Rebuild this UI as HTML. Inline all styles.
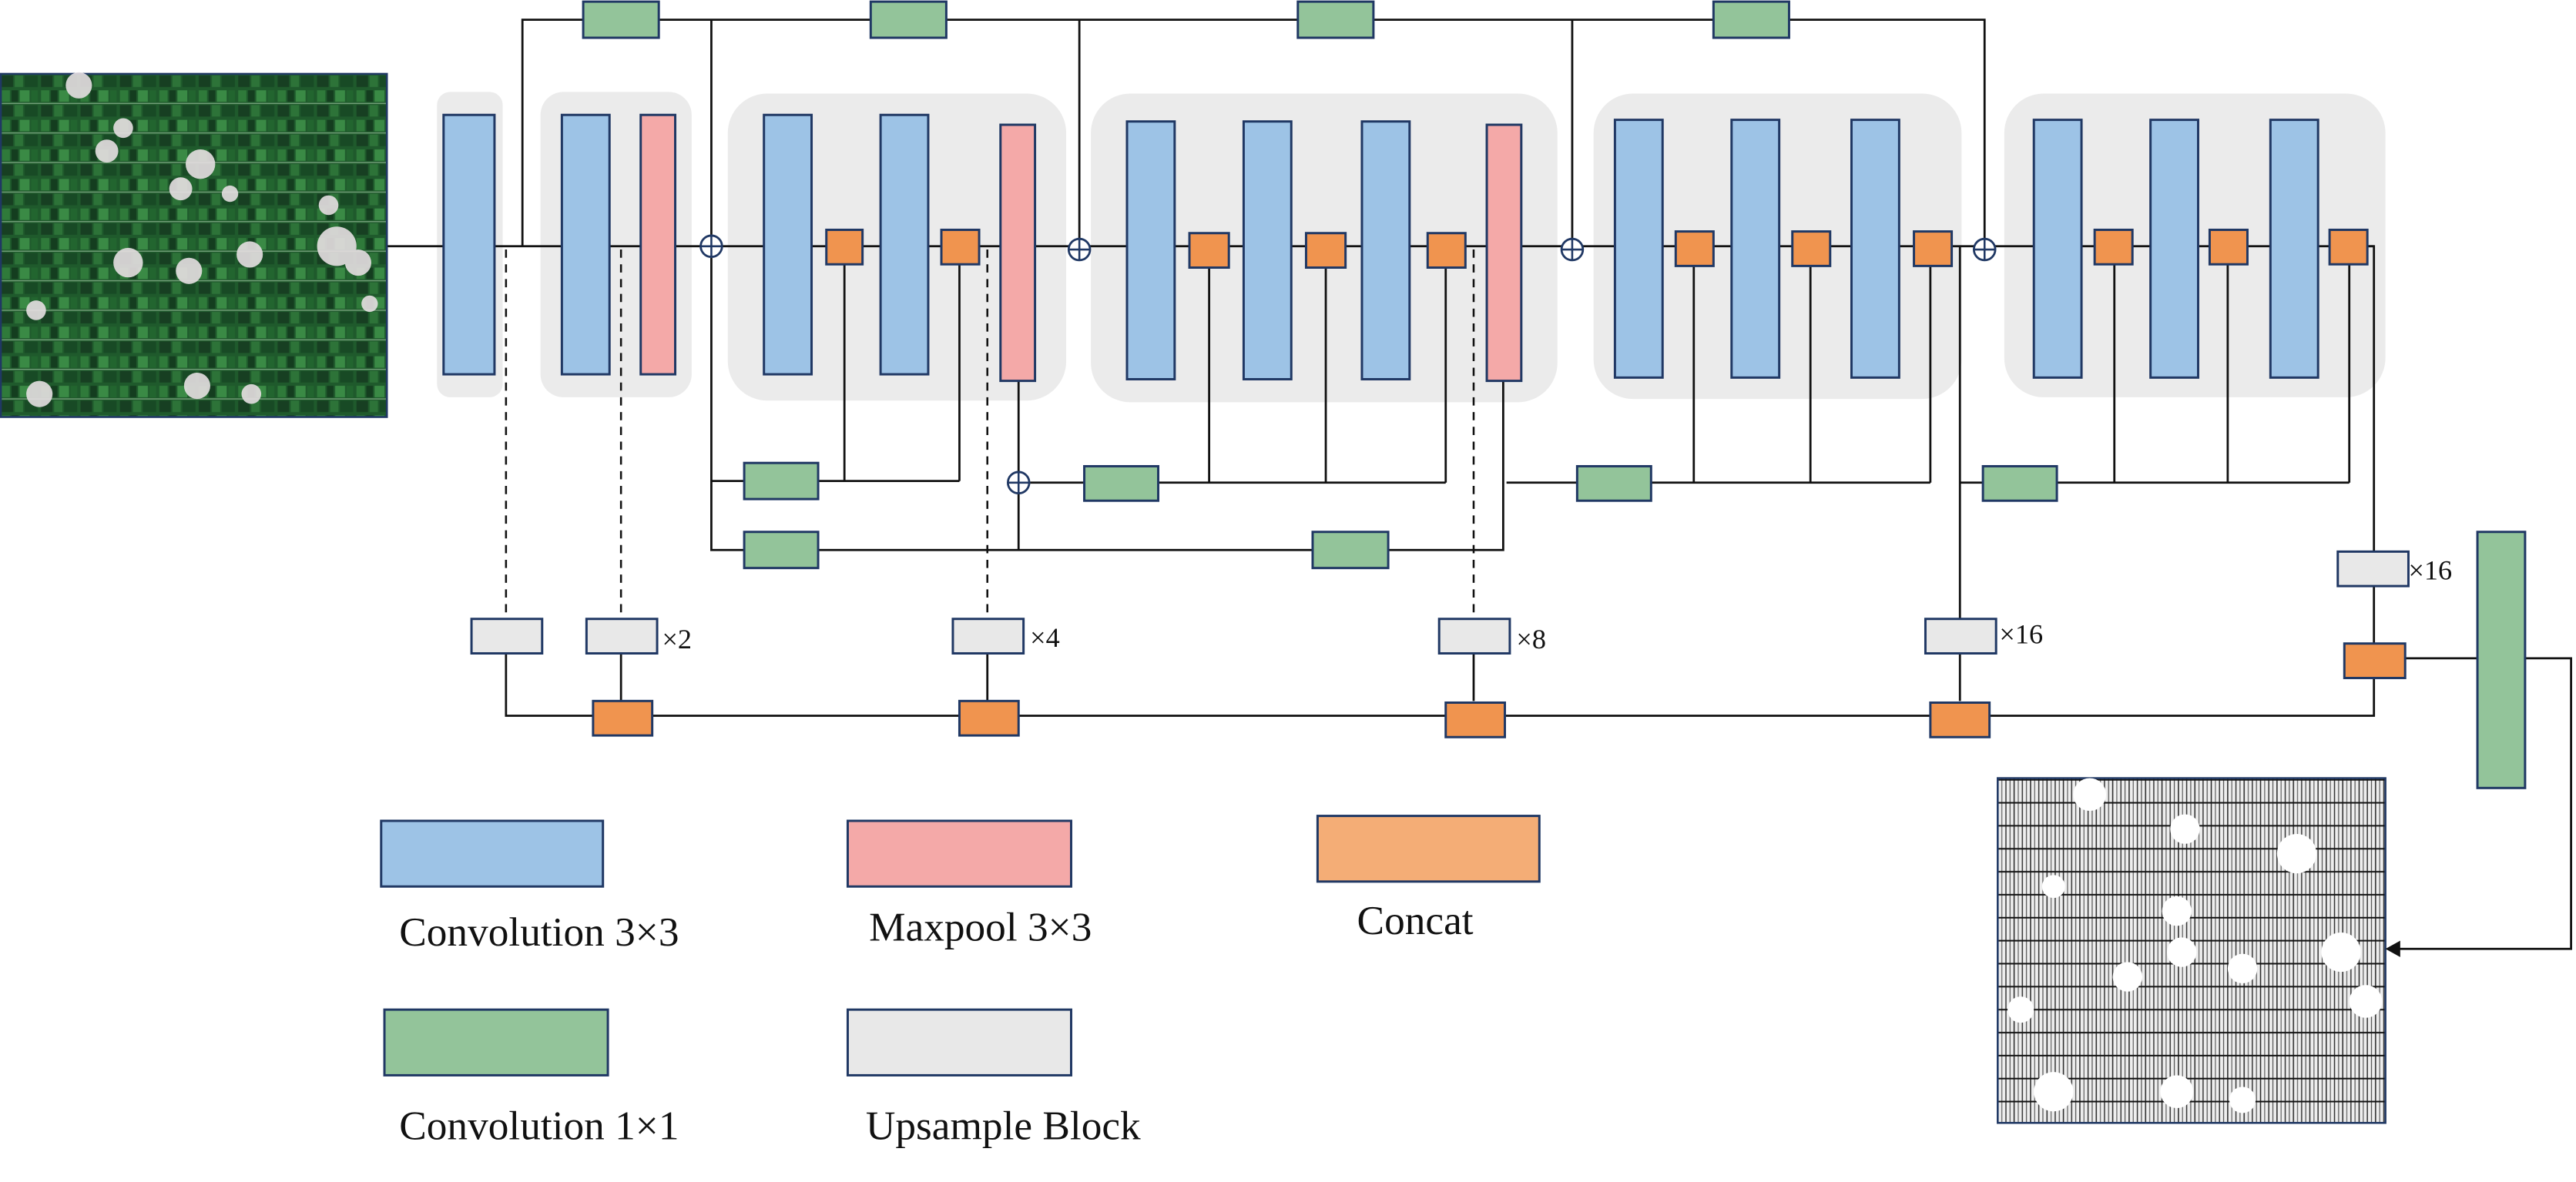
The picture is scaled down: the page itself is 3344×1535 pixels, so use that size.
<!DOCTYPE html>
<html><head><meta charset="utf-8"><style>
html,body{margin:0;padding:0;background:#fff;}
svg{display:block;}
text{font-family:"Liberation Serif",serif;fill:#111;}
</style></head><body>
<svg width="3344" height="1535" viewBox="0 0 1568 720" preserveAspectRatio="none" xmlns="http://www.w3.org/2000/svg">
<defs>
<pattern id="fields" width="24" height="18" patternUnits="userSpaceOnUse">
<rect width="24" height="18" fill="#1f5a2c"/>
<rect x="1" y="1" width="5" height="7" fill="#2f7a3a"/>
<rect x="7" y="1" width="4" height="7" fill="#143d1f"/>
<rect x="12" y="1" width="6" height="7" fill="#3a8a45"/>
<rect x="19" y="1" width="4" height="7" fill="#22652f"/>
<rect x="1" y="10" width="7" height="7" fill="#173f22"/>
<rect x="9" y="10" width="5" height="7" fill="#2d7338"/>
<rect x="15" y="10" width="8" height="7" fill="#184a25"/>
<line x1="0" y1="9" x2="24" y2="9" stroke="#7fa784" stroke-width="0.6"/>
</pattern>
<pattern id="lines" width="10" height="14" patternUnits="userSpaceOnUse">
<rect width="10" height="14" fill="#eeeeee"/>
<line x1="1" y1="0" x2="1" y2="14" stroke="#333" stroke-width="0.7"/>
<line x1="3.5" y1="0" x2="3.5" y2="14" stroke="#555" stroke-width="0.6"/>
<line x1="6" y1="0" x2="6" y2="14" stroke="#222" stroke-width="0.7"/>
<line x1="8.5" y1="0" x2="8.5" y2="14" stroke="#666" stroke-width="0.6"/>
<line x1="0" y1="13" x2="10" y2="13" stroke="#111" stroke-width="0.9"/>
</pattern>
</defs>

<rect x="0.5" y="45" width="235" height="209" fill="url(#fields)" stroke="#203864" stroke-width="1.2"/>
<g fill="#e6dfe2" opacity="0.9">
<circle cx="48" cy="52" r="8"/><circle cx="75" cy="78" r="6"/><circle cx="65" cy="92" r="7"/>
<circle cx="122" cy="100" r="9"/><circle cx="110" cy="115" r="7"/><circle cx="152" cy="155" r="8"/>
<circle cx="78" cy="160" r="9"/><circle cx="115" cy="165" r="8"/><circle cx="205" cy="150" r="12"/>
<circle cx="218" cy="160" r="8"/><circle cx="22" cy="189" r="6"/><circle cx="24" cy="240" r="8"/>
<circle cx="120" cy="235" r="8"/><circle cx="153" cy="240" r="6"/><circle cx="140" cy="118" r="5"/>
<circle cx="200" cy="125" r="6"/><circle cx="225" cy="185" r="5"/>
</g>

<rect x="1216" y="474" width="236" height="210" fill="url(#lines)" stroke="#203864" stroke-width="1.2"/>
<g fill="#fff">
<circle cx="1272" cy="484" r="10"/><circle cx="1250" cy="540" r="7"/><circle cx="1330" cy="505" r="9"/>
<circle cx="1398" cy="520" r="12"/><circle cx="1325" cy="555" r="9"/><circle cx="1328" cy="580" r="9"/>
<circle cx="1365" cy="590" r="9"/><circle cx="1425" cy="580" r="12"/><circle cx="1440" cy="610" r="10"/>
<circle cx="1295" cy="595" r="9"/><circle cx="1230" cy="615" r="8"/><circle cx="1250" cy="665" r="12"/>
<circle cx="1325" cy="665" r="10"/><circle cx="1365" cy="670" r="8"/>
</g>

<g fill="#ebebeb">
<rect x="266" y="56" width="40" height="186" rx="8"/>
<rect x="329" y="56" width="92" height="186" rx="14"/>
<rect x="443" y="57" width="206" height="187" rx="24"/>
<rect x="664" y="57" width="284" height="188" rx="24"/>
<rect x="970" y="57" width="224" height="186" rx="24"/>
<rect x="1220" y="57" width="232" height="185" rx="24"/>
</g>

<g stroke="#111" stroke-width="1.3" fill="none">
<line x1="236" y1="150" x2="1445" y2="150"/>
<polyline points="318,150 318,12 1208,12 1208,145"/>
<line x1="433" y1="12" x2="433" y2="143"/>
<line x1="657" y1="12" x2="657" y2="145"/>
<line x1="957" y1="12" x2="957" y2="145"/>
<polyline points="433,157 433,335 915,335 915,232"/>
<line x1="433" y1="293" x2="584" y2="293"/>
<line x1="514" y1="160" x2="514" y2="293"/>
<line x1="584" y1="160" x2="584" y2="293"/>
<line x1="620" y1="232" x2="620" y2="335"/>
<line x1="627" y1="294" x2="880" y2="294"/>
<line x1="736" y1="160" x2="736" y2="294"/>
<line x1="807" y1="160" x2="807" y2="294"/>
<line x1="880" y1="160" x2="880" y2="294"/>
<line x1="917" y1="294" x2="1175" y2="294"/>
<line x1="1031" y1="160" x2="1031" y2="294"/>
<line x1="1102" y1="160" x2="1102" y2="294"/>
<line x1="1175" y1="160" x2="1175" y2="294"/>
<line x1="1193" y1="150" x2="1193" y2="377"/>
<line x1="1193" y1="294" x2="1430" y2="294"/>
<line x1="1287" y1="160" x2="1287" y2="294"/>
<line x1="1356" y1="160" x2="1356" y2="294"/>
<line x1="1430" y1="160" x2="1430" y2="294"/>
<polyline points="1441,150 1445,150 1445,336"/>
<line x1="1445" y1="357" x2="1445" y2="392"/>
<polyline points="308,398 308,436 1445,436 1445,413"/>
<line x1="378" y1="398" x2="378" y2="427"/>
<line x1="601" y1="398" x2="601" y2="427"/>
<line x1="897" y1="398" x2="897" y2="427"/>
<line x1="1193" y1="398" x2="1193" y2="427"/>
<line x1="1464" y1="401" x2="1508" y2="401"/>
<polyline points="1537,401 1565,401 1565,578 1460,578"/>
</g>
<polygon points="1452,578 1461,573 1461,583" fill="#111"/>

<g stroke="#111" stroke-width="1.2" stroke-dasharray="5,4">
<line x1="308" y1="152" x2="308" y2="377"/>
<line x1="378" y1="152" x2="378" y2="377"/>
<line x1="601" y1="152" x2="601" y2="377"/>
<line x1="897" y1="152" x2="897" y2="377"/>
</g>

<g fill="#fff" stroke="#203864" stroke-width="1.3">
<circle cx="433" cy="150" r="6.5"/><circle cx="657" cy="152" r="6.5"/>
<circle cx="957" cy="152" r="6.5"/><circle cx="1208" cy="152" r="6.5"/>
<circle cx="620" cy="294" r="6.5"/>
</g>
<g stroke="#203864" stroke-width="1.2">
<path d="M426.5 150h13M433 143.5v13"/><path d="M650.5 152h13M657 145.5v13"/>
<path d="M950.5 152h13M957 145.5v13"/><path d="M1201.5 152h13M1208 145.5v13"/>
<path d="M613.5 294h13M620 287.5v13"/>
</g>

<g stroke="#203864" stroke-width="1.4">
<g fill="#9dc3e6">
<rect x="270" y="70" width="31" height="158"/>
<rect x="342" y="70" width="29" height="158"/>
<rect x="465" y="70" width="29" height="158"/><rect x="536" y="70" width="29" height="158"/>
<rect x="686" y="74" width="29" height="157"/><rect x="757" y="74" width="29" height="157"/><rect x="829" y="74" width="29" height="157"/>
<rect x="983" y="73" width="29" height="157"/><rect x="1054" y="73" width="29" height="157"/><rect x="1127" y="73" width="29" height="157"/>
<rect x="1238" y="73" width="29" height="157"/><rect x="1309" y="73" width="29" height="157"/><rect x="1382" y="73" width="29" height="157"/>
<rect x="232" y="500" width="135" height="40"/>
</g>
<g fill="#f4a9a8">
<rect x="390" y="70" width="21" height="158"/>
<rect x="609" y="76" width="21" height="156"/>
<rect x="905" y="76" width="21" height="156"/>
<rect x="516" y="500" width="136" height="40"/>
</g>
<g fill="#f0944f">
<rect x="503" y="140" width="22" height="21"/><rect x="573" y="140" width="23" height="21"/>
<rect x="724" y="142" width="24" height="21"/><rect x="795" y="142" width="24" height="21"/><rect x="869" y="142" width="23" height="21"/>
<rect x="1020" y="141" width="23" height="21"/><rect x="1091" y="141" width="23" height="21"/><rect x="1165" y="141" width="23" height="21"/>
<rect x="1275" y="140" width="23" height="21"/><rect x="1345" y="140" width="23" height="21"/><rect x="1418" y="140" width="23" height="21"/>
<rect x="361" y="427" width="36" height="21"/><rect x="584" y="427" width="36" height="21"/>
<rect x="880" y="428" width="36" height="21"/><rect x="1175" y="428" width="36" height="21"/>
<rect x="1427" y="392" width="37" height="21"/>
</g>
<rect x="802" y="497" width="135" height="40" fill="#f4ad76"/>
<g fill="#93c49a">
<rect x="355" y="1" width="46" height="22"/><rect x="530" y="1" width="46" height="22"/>
<rect x="790" y="1" width="46" height="22"/><rect x="1043" y="1" width="46" height="22"/>
<rect x="453" y="282" width="45" height="22"/><rect x="453" y="324" width="45" height="22"/>
<rect x="660" y="284" width="45" height="21"/><rect x="799" y="324" width="46" height="22"/>
<rect x="960" y="284" width="45" height="21"/><rect x="1207" y="284" width="45" height="21"/>
<rect x="1508" y="324" width="29" height="156"/>
<rect x="234" y="615" width="136" height="40"/>
</g>
<g fill="#e8e8e8">
<rect x="287" y="377" width="43" height="21"/><rect x="357" y="377" width="43" height="21"/>
<rect x="580" y="377" width="43" height="21"/><rect x="876" y="377" width="43" height="21"/>
<rect x="1172" y="377" width="43" height="21"/><rect x="1423" y="336" width="43" height="21"/>
<rect x="516" y="615" width="136" height="40"/>
</g>
</g>

<g font-size="17">
<text x="403" y="395">×2</text><text x="627" y="394">×4</text>
<text x="923" y="395">×8</text><text x="1217" y="392">×16</text>
<text x="1466" y="353">×16</text>
</g>
<g font-size="25">
<text x="243" y="576">Convolution 3×3</text>
<text x="529" y="573">Maxpool 3×3</text>
<text x="826" y="569">Concat</text>
<text x="243" y="694">Convolution 1×1</text>
<text x="527" y="694">Upsample Block</text>
</g>
</svg>
</body></html>
